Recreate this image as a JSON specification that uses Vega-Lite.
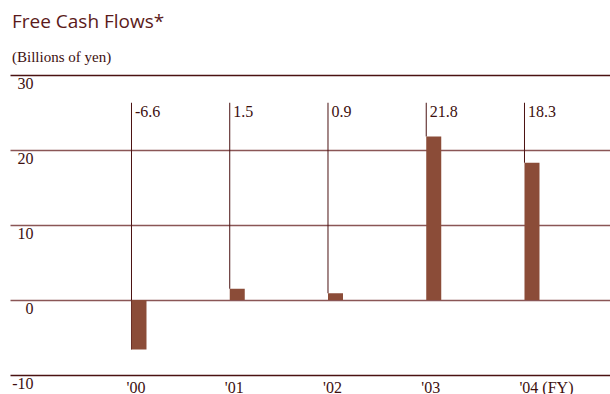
{
  "$schema": "https://vega.github.io/schema/vega-lite/v6.json",
  "width": 600,
  "height": 300,
  "autosize": {"type": "none"},
  "padding": {"left": 10, "top": 75, "right": 0, "bottom": 19},
  "background": "white",
  "config": {"view": {"stroke": null}},
  "title": {
    "text": "Free Cash Flows*",
    "subtitle": "(Billions of yen)",
    "anchor": "start",
    "frame": "group",
    "dx": 2,
    "offset": 10,
    "font": "Open Sans",
    "fontSize": 19,
    "fontWeight": "normal",
    "color": "#5b1a1a",
    "subtitleFont": "Liberation Serif",
    "subtitleFontSize": 15,
    "subtitleFontWeight": "normal",
    "subtitleColor": "#3d0f0f",
    "subtitlePadding": 18
  },
  "data": {
    "values": [
      {"year": 2000, "value": -6.6, "label": "-6.6"},
      {"year": 2001, "value": 1.5, "label": "1.5"},
      {"year": 2002, "value": 0.9, "label": "0.9"},
      {"year": 2003, "value": 21.8, "label": "21.8"},
      {"year": 2004, "value": 18.3, "label": "18.3"}
    ]
  },
  "encoding": {
    "x": {
      "field": "year",
      "type": "quantitative",
      "scale": {"domain": [1998.687, 2004.794], "nice": false, "zero": false, "padding": 0},
      "axis": {
        "values": [2000, 2001, 2002, 2003, 2004],
        "title": null,
        "grid": false,
        "domain": false,
        "ticks": false,
        "labelExpr": "datum.value == 2004 ? \"'04 (FY)\" : \"'\" + substring(toString(datum.value), 2, 4)",
        "labelAlign": "left",
        "labelOffset": -13,
        "labelPadding": 4,
        "labelFont": "Liberation Serif",
        "labelFontSize": 16,
        "labelColor": "#3d0f0f"
      }
    }
  },
  "layer": [
    {
      "mark": {"type": "rule", "color": "#4a1212", "strokeWidth": 1, "xOffset": -7.5},
      "encoding": {
        "y": {
          "field": "value",
          "type": "quantitative",
          "scale": {"domain": [-10, 30], "nice": false, "padding": 0},
          "axis": {
            "values": [-10, 0, 10, 20, 30],
            "title": null,
            "grid": true,
            "gridColor": {"condition": {"test": "datum.value == 30 || datum.value == -10", "value": "#4a1212"}, "value": "#8a5656"},
            "gridWidth": 1.5,
            "gridOpacity": 1,
            "domain": false,
            "ticks": false,
            "labelExpr": "toString(datum.value)",
            "labelAlign": "right",
            "labelBaseline": "top",
            "labelPadding": -23,
            "labelDy": 3,
            "labelFont": "Liberation Serif",
            "labelFontSize": 16,
            "labelColor": "#3d0f0f"
          }
        },
        "y2": {"datum": 26.3}
      }
    },
    {
      "mark": {"type": "bar", "color": "#8b4c38", "width": 15},
      "encoding": {
        "y": {"field": "value", "type": "quantitative"},
        "y2": {"datum": 0}
      }
    },
    {
      "mark": {"type": "text", "align": "left", "baseline": "top", "dx": -4, "dy": 1, "font": "Liberation Serif", "fontSize": 16, "color": "#3d0f0f"},
      "encoding": {
        "y": {"datum": 26.3, "type": "quantitative"},
        "text": {"field": "label"}
      }
    }
  ]
}
